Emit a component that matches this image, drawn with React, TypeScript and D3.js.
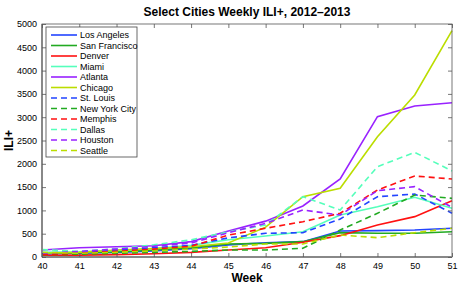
import React, { useLayoutEffect, useRef } from 'react';
import * as d3 from 'd3';

const weeks = [40, 41, 42, 43, 44, 45, 46, 47, 48, 49, 50, 51];

const cities = [
  'Los Angeles',
  'San Francisco',
  'Denver',
  'Miami',
  'Atlanta',
  'Chicago',
  'St. Louis',
  'New York City',
  'Memphis',
  'Dallas',
  'Houston',
  'Seattle',
];

const losAngeles = [60, 80, 100, 130, 180, 260, 307, 329, 558, 565, 579, 616];
const sanFrancisco = [80, 90, 110, 150, 200, 280, 293, 329, 522, 509, 509, 543];
const denver = [30, 40, 50, 70, 100, 150, 200, 315, 458, 687, 866, 1209];
const miami = [100, 110, 140, 180, 250, 370, 450, 543, 901, 1080, 1281, 1045];
const atlanta = [150, 200, 220, 240, 330, 560, 770, 1094, 1674, 3011, 3240, 3311];
const chicago = [80, 100, 150, 180, 220, 300, 640, 1294, 1474, 2582, 3477, 4857];
const stLouis = [70, 100, 150, 200, 250, 410, 509, 522, 815, 1294, 1352, 938];
const newYorkCity = [50, 60, 80, 100, 120, 150, 150, 187, 579, 938, 1330, 1259];
const memphis = [50, 80, 120, 170, 230, 470, 616, 758, 938, 1438, 1738, 1674];
const dallas = [160, 120, 180, 260, 370, 540, 687, 1294, 1008, 1938, 2246, 1846];
const houston = [80, 120, 170, 230, 300, 520, 723, 1008, 901, 1423, 1509, 1066];
const seattle = [100, 80, 100, 130, 170, 215, 280, 280, 472, 415, 522, 616];

const seriesValues = [
  losAngeles, sanFrancisco, denver, miami, atlanta, chicago,
  stLouis, newYorkCity, memphis, dallas, houston, seattle,
];

const yTicks = [0, 500, 1000, 1500, 2000, 2500, 3000, 3500, 4000, 4500, 5000];

const palette = ['#2244ff', '#22aa22', '#ff1111', '#55ffbb', '#9922ff', '#bbdd00'];

const width = 460;
const height = 285;
const margin = { top: 24, right: 8, bottom: 28, left: 42 };

const drawChart = (container: SVGSVGElement) => {
  const svg = d3.select(container);
  svg.selectAll('*').remove();
  const font = 'Liberation Sans, Arial, Helvetica, sans-serif';

  const plotW = width - margin.left - margin.right;
  const plotH = height - margin.top - margin.bottom;

  const x = d3.scaleLinear().domain([40, 51]).range([0, plotW]);
  const y = d3.scaleLinear().domain([0, 5000]).range([plotH, 0]);

  const g = svg
    .append('g')
    .attr('transform', `translate(${margin.left},${margin.top})`);

  // lines
  const line = d3
    .line<number>()
    .x((_d, i) => x(weeks[i]))
    .y((d) => y(d));

  seriesValues.forEach((vals, i) => {
    g.append('path')
      .datum(vals)
      .attr('d', line)
      .attr('fill', 'none')
      .attr('stroke', palette[i % 6])
      .attr('stroke-width', 1.6)
      .attr('stroke-dasharray', i >= 6 ? '6,4' : null);
  });

  // frame
  g.append('rect')
    .attr('width', plotW)
    .attr('height', plotH)
    .attr('fill', 'none')
    .attr('stroke', '#555')
    .attr('stroke-width', 0.8);
  g.append('line')
    .attr('x1', 0).attr('x2', 0).attr('y1', 0).attr('y2', plotH)
    .attr('stroke', '#888').attr('stroke-width', 2);
  g.append('line')
    .attr('x1', 0).attr('x2', plotW).attr('y1', plotH).attr('y2', plotH)
    .attr('stroke', '#888').attr('stroke-width', 2);

  // axes with inward ticks
  const xAxis = d3.axisBottom(x).tickValues(weeks).tickFormat(d3.format('d')).tickSizeInner(-4).tickSizeOuter(0).tickPadding(6);
  const yAxis = d3.axisLeft(y).tickValues(yTicks).tickFormat(d3.format('d')).tickSizeInner(-4).tickSizeOuter(0).tickPadding(5);
  const xTop = d3.axisTop(x).tickValues(weeks).tickSizeInner(-4).tickSizeOuter(0).tickFormat(() => '');
  const yRight = d3.axisRight(y).tickValues(yTicks).tickSizeInner(-4).tickSizeOuter(0).tickFormat(() => '');

  const styleAxis = (sel: d3.Selection<SVGGElement, unknown, null, undefined>) => {
    sel.select('.domain').remove();
    sel.selectAll('line').attr('stroke', '#555').attr('stroke-width', 0.8);
    sel.selectAll('text').attr('font-family', font).attr('font-size', 9).attr('fill', '#000');
  };

  g.append('g').attr('transform', `translate(0,${plotH})`).call(xAxis).call(styleAxis);
  g.append('g').call(yAxis).call(styleAxis);
  g.append('g').call(xTop).call(styleAxis);
  g.append('g').attr('transform', `translate(${plotW},0)`).call(yRight).call(styleAxis);

  // legend
  const lg = g.append('g').attr('transform', 'translate(4,3)');
  const rowH = 10.5;
  lg.append('rect')
    .attr('width', 91)
    .attr('height', 130)
    .attr('fill', '#fff')
    .attr('stroke', '#444')
    .attr('stroke-width', 0.8);
  cities.forEach((name, i) => {
    const ry = 8 + i * rowH;
    lg.append('line')
      .attr('x1', 5).attr('x2', 31).attr('y1', ry).attr('y2', ry)
      .attr('stroke', palette[i % 6])
      .attr('stroke-width', 1.6)
      .attr('stroke-dasharray', i >= 6 ? '6,4' : null);
    lg.append('text')
      .attr('x', 34)
      .attr('y', ry + 3.2)
      .attr('font-family', font)
      .attr('font-size', 9)
      .text(name);
  });

  // titles
  svg.append('text')
    .attr('x', margin.left + plotW / 2)
    .attr('y', 16)
    .attr('text-anchor', 'middle')
    .attr('font-family', font)
    .attr('font-weight', 'bold')
    .attr('font-size', 12)
    .text('Select Cities Weekly ILI+, 2012\u20132013');

  svg.append('text')
    .attr('x', margin.left + plotW / 2)
    .attr('y', 282)
    .attr('text-anchor', 'middle')
    .attr('font-family', font)
    .attr('font-weight', 'bold')
    .attr('font-size', 12)
    .text('Week');

  svg.append('text')
    .attr('transform', `translate(13,${margin.top + plotH / 2}) rotate(-90)`)
    .attr('text-anchor', 'middle')
    .attr('font-family', font)
    .attr('font-weight', 'bold')
    .attr('font-size', 12)
    .text('ILI+');
};

export default function App() {
  const ref = useRef<SVGSVGElement>(null);

  useLayoutEffect(() => {
    if (ref.current) drawChart(ref.current);
  }, []);

  return (
    <svg
      ref={ref}
      width={width}
      height={height}
      style={{ position: 'absolute', left: 0, top: 0, background: '#fff' }}
    />
  );
}
